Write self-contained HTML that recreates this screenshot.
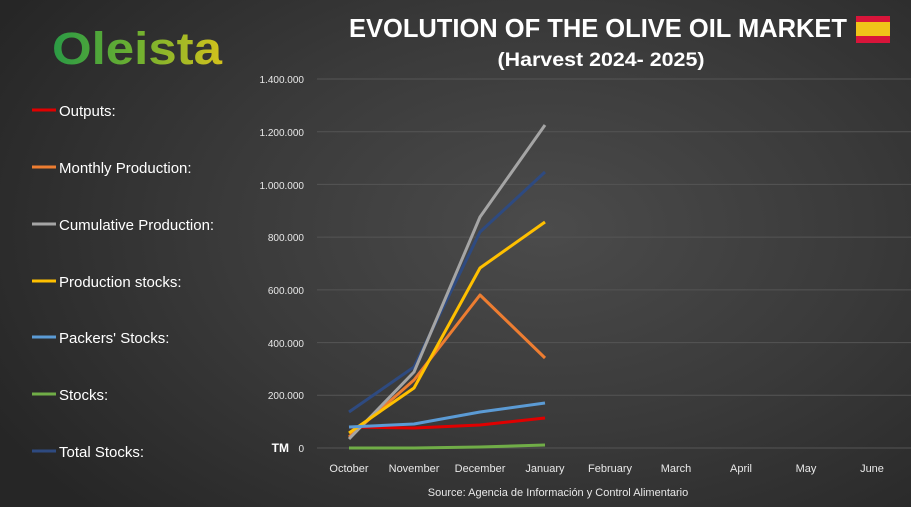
<!DOCTYPE html>
<html><head><meta charset="utf-8"><style>
html,body{margin:0;padding:0;width:911px;height:507px;overflow:hidden;}
body{background:radial-gradient(ellipse 70% 80% at 60% 45%,#4b4b4b 0%,#3a3a3a 50%,#262626 100%);}
svg{display:block;font-family:"Liberation Sans",sans-serif;}
</style></head><body>
<svg width="911" height="507" viewBox="0 0 911 507">
<defs>
<linearGradient id="lg" x1="0" x2="1" y1="0" y2="0">
<stop offset="0" stop-color="#2a9a45"/><stop offset="0.5" stop-color="#6fb030"/><stop offset="1" stop-color="#d4c21c"/>
</linearGradient>
</defs>
<text x="52" y="64" font-size="45" font-weight="bold" fill="url(#lg)" textLength="170" lengthAdjust="spacingAndGlyphs">Oleista</text>
<text x="598" y="37" font-size="26" font-weight="bold" fill="#fff" text-anchor="middle" textLength="498" lengthAdjust="spacingAndGlyphs">EVOLUTION OF THE OLIVE OIL MARKET</text>
<text x="601" y="66" font-size="19" font-weight="bold" fill="#fff" text-anchor="middle" textLength="207" lengthAdjust="spacingAndGlyphs">(Harvest 2024- 2025)</text>
<rect x="856" y="16" width="34" height="27" fill="#d8153a"/>
<rect x="856" y="22" width="34" height="14" fill="#f0c419"/>
<g stroke="#555" stroke-width="1">
<line x1="317" x2="911" y1="79" y2="79"/><line x1="317" x2="911" y1="131.7" y2="131.7"/>
<line x1="317" x2="911" y1="184.4" y2="184.4"/><line x1="317" x2="911" y1="237.1" y2="237.1"/>
<line x1="317" x2="911" y1="289.9" y2="289.9"/><line x1="317" x2="911" y1="342.6" y2="342.6"/>
<line x1="317" x2="911" y1="395.3" y2="395.3"/><line x1="317" x2="911" y1="448" y2="448"/>
</g>
<g font-size="10" fill="#e8e8e8" text-anchor="end">
<text x="304" y="83">1.400.000</text><text x="304" y="136">1.200.000</text>
<text x="304" y="189">1.000.000</text><text x="304" y="241">800.000</text>
<text x="304" y="294">600.000</text><text x="304" y="347">400.000</text>
<text x="304" y="399">200.000</text><text x="304" y="452">0</text>
</g>
<text x="289" y="452" font-size="12" font-weight="bold" fill="#fff" text-anchor="end">TM</text>
<g font-size="11" fill="#e8e8e8" text-anchor="middle">
<text x="349" y="472">October</text><text x="414" y="472">November</text><text x="480" y="472">December</text>
<text x="545" y="472">January</text><text x="610" y="472">February</text><text x="676" y="472">March</text>
<text x="741" y="472">April</text><text x="806" y="472">May</text><text x="872" y="472">June</text>
</g>
<text x="558" y="496" font-size="11" fill="#e8e8e8" text-anchor="middle">Source: Agencia de Información y Control Alimentario</text>
<g fill="none" stroke-width="3" stroke-linejoin="round">
<polyline stroke="#70ad47" points="349,448 414,448 480,447 545,445"/>
<polyline stroke="#e00000" points="349,427 414,428 480,425 545,418"/>
<polyline stroke="#ed7d31" points="349,437 414,380 480,295 545,358"/>
<polyline stroke="#2e4a80" points="349,412 414,367 480,232 545,172"/>
<polyline stroke="#a5a5a5" points="349,439 414,372 480,217 545,125"/>
<polyline stroke="#ffc000" points="349,433 414,388 480,268 545,222"/>
<polyline stroke="#5b9bd5" points="349,427 414,424 480,412 545,403"/>
</g>
<g stroke-width="3">
<line x1="32" x2="56" y1="110" y2="110" stroke="#e00000"/>
<line x1="32" x2="56" y1="167" y2="167" stroke="#ed7d31"/>
<line x1="32" x2="56" y1="224" y2="224" stroke="#a5a5a5"/>
<line x1="32" x2="56" y1="281" y2="281" stroke="#ffc000"/>
<line x1="32" x2="56" y1="337" y2="337" stroke="#5b9bd5"/>
<line x1="32" x2="56" y1="394" y2="394" stroke="#70ad47"/>
<line x1="32" x2="56" y1="451" y2="451" stroke="#2e4a80"/>
</g>
<g font-size="15" fill="#fff">
<text x="59" y="116">Outputs:</text>
<text x="59" y="173">Monthly Production:</text>
<text x="59" y="230">Cumulative Production:</text>
<text x="59" y="287">Production stocks:</text>
<text x="59" y="343">Packers' Stocks:</text>
<text x="59" y="400">Stocks:</text>
<text x="59" y="457">Total Stocks:</text>
</g>
</svg>
</body></html>
